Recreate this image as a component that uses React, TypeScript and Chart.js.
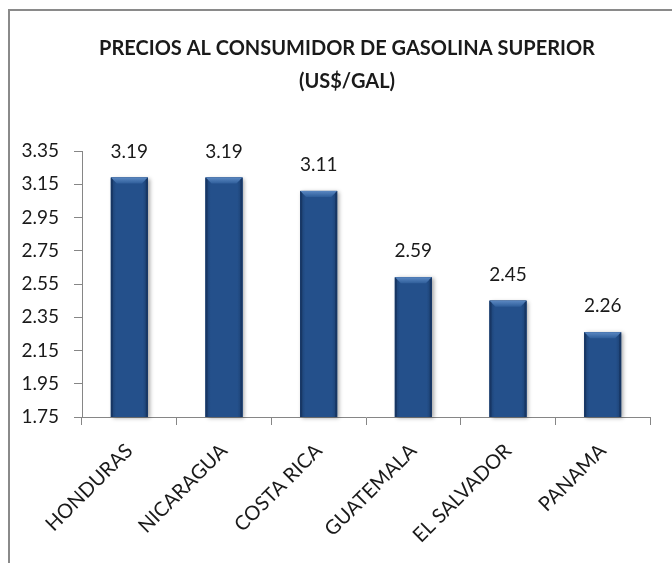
import React, { useEffect, useRef } from 'react';
import { Chart, registerables } from 'chart.js';

Chart.register(...registerables);

const categories = ['HONDURAS', 'NICARAGUA', 'COSTA RICA', 'GUATEMALA', 'EL SALVADOR', 'PANAMA'];
const prices = [3.19, 3.19, 3.11, 2.59, 2.45, 2.26];
const yTickValues = [1.75, 1.95, 2.15, 2.35, 2.55, 2.75, 2.95, 3.15, 3.35];
const titleLines = ['PRECIOS AL CONSUMIDOR DE GASOLINA SUPERIOR', '(US$/GAL)'];

const FONT = 'Lato';
const TEXT = '#1a1a1a';
const AXIS = '#868686';
const BAR = '#24508b';

function barBox(chart: any, b: any) {
  const p = b.getProps(['x', 'y', 'base', 'width'], true);
  const btm = Math.min(p.base, chart.chartArea.bottom);
  return { l: p.x - p.width / 2, r: p.x + p.width / 2, t: p.y, btm, w: p.width, x: p.x };
}

const titlePlugin = {
  id: 'customTitle',
  afterDraw(chart: any) {
    const ctx = chart.ctx;
    ctx.save();
    ctx.fillStyle = TEXT;
    ctx.font = `bold 20px ${FONT}`;
    ctx.textAlign = 'center';
    ctx.textBaseline = 'alphabetic';
    ctx.fillText(titleLines[0], 347, 55);
    ctx.fillText(titleLines[1], 347, 88);
    ctx.restore();
  },
};

const bevelPlugin = {
  id: 'bevel',
  beforeDatasetsDraw(chart: any) {
    const ctx = chart.ctx;
    const meta = chart.getDatasetMeta(0);
    ctx.save();
    ctx.shadowColor = 'rgba(0,0,0,0.35)';
    ctx.shadowBlur = 4;
    ctx.shadowOffsetX = 2;
    ctx.shadowOffsetY = 1;
    ctx.fillStyle = BAR;
    meta.data.forEach((b: any) => {
      const { l, t, w, btm } = barBox(chart, b);
      ctx.fillRect(l, t, w, btm - t);
    });
    ctx.restore();
  },
  afterDatasetsDraw(chart: any) {
    const ctx = chart.ctx;
    const meta = chart.getDatasetMeta(0);
    ctx.save();
    meta.data.forEach((b: any) => {
      const { l, r, t, w, btm } = barBox(chart, b);
      const g = ctx.createLinearGradient(l, 0, r, 0);
      g.addColorStop(0, '#1b3f70');
      g.addColorStop(0.14, '#24508b');
      g.addColorStop(0.86, '#24508b');
      g.addColorStop(1, '#1b3f70');
      ctx.fillStyle = g;
      ctx.fillRect(l, t, w, btm - t);
      const bv = 6;
      const tg = ctx.createLinearGradient(0, t, 0, t + bv);
      tg.addColorStop(0, '#5b88c2');
      tg.addColorStop(1, '#2f5e9a');
      ctx.fillStyle = tg;
      ctx.beginPath();
      ctx.moveTo(l, t);
      ctx.lineTo(r, t);
      ctx.lineTo(r - bv, t + bv);
      ctx.lineTo(l + bv, t + bv);
      ctx.closePath();
      ctx.fill();
      ctx.fillStyle = 'rgba(20,45,85,0.55)';
      ctx.beginPath();
      ctx.moveTo(l, t);
      ctx.lineTo(l + 2, t + 2);
      ctx.lineTo(l + 2, btm);
      ctx.lineTo(l, btm);
      ctx.closePath();
      ctx.fill();
      ctx.beginPath();
      ctx.moveTo(r, t);
      ctx.lineTo(r - 2, t + 2);
      ctx.lineTo(r - 2, btm);
      ctx.lineTo(r, btm);
      ctx.closePath();
      ctx.fill();
    });
    ctx.restore();
  },
};

const labelPlugin = {
  id: 'barLabels',
  afterDatasetsDraw(chart: any) {
    const ctx = chart.ctx;
    const meta = chart.getDatasetMeta(0);
    ctx.save();
    ctx.fillStyle = TEXT;
    ctx.font = `19px ${FONT}`;
    ctx.textAlign = 'center';
    ctx.textBaseline = 'alphabetic';
    meta.data.forEach((b: any, i: number) => {
      const { x, t } = barBox(chart, b);
      ctx.fillText(prices[i].toFixed(2), x, t - 20);
    });
    ctx.restore();
  },
};

export default function App() {
  const canvasRef = useRef<HTMLCanvasElement | null>(null);

  useEffect(() => {
    let chart: Chart | null = null;
    let cancelled = false;
    const make = () => {
      if (cancelled || !canvasRef.current) return;
      chart = new Chart(canvasRef.current, {
        type: 'bar',
        data: {
          labels: categories,
          datasets: [
            {
              data: prices,
              backgroundColor: BAR,
              borderWidth: 0,
              barPercentage: 0.39,
              categoryPercentage: 1,
            },
          ],
        },
        options: {
          responsive: false,
          animation: false,
          devicePixelRatio: 1,
          layout: { padding: { top: 151, right: 22, bottom: 0, left: 0 } },
          plugins: {
            legend: { display: false },
            title: { display: false },
            tooltip: { enabled: false },
          },
          scales: {
            x: {
              type: 'category',
              offset: true,
              z: 1,
              grid: {
                display: true,
                drawOnChartArea: false,
                drawTicks: true,
                tickLength: 8,
                offset: true,
                color: AXIS,
                lineWidth: 1,
              },
              border: { display: true, color: AXIS, width: 1 },
              ticks: {
                minRotation: 45,
                maxRotation: 45,
                autoSkip: false,
                padding: 14,
                color: TEXT,
                font: { family: FONT, size: 20 },
              },
              afterFit: (s: any) => {
                s.height = 146;
              },
            },
            y: {
              type: 'linear',
              min: 1.75,
              max: 3.35,
              z: 1,
              afterBuildTicks: (s: any) => {
                s.ticks = yTickValues.map((v) => ({ value: v }));
              },
              grid: {
                display: true,
                drawOnChartArea: false,
                drawTicks: true,
                tickLength: 8,
                color: AXIS,
                lineWidth: 1,
              },
              border: { display: true, color: AXIS, width: 1 },
              ticks: {
                padding: 15,
                color: TEXT,
                font: { family: FONT, size: 19 },
                callback: (v: any) => Number(v).toFixed(2),
              },
              afterFit: (s: any) => {
                s.width = 82;
              },
            },
          },
        },
        plugins: [titlePlugin, bevelPlugin, labelPlugin],
      });
    };
    const fonts: any = (document as any).fonts;
    if (fonts && fonts.load) {
      Promise.all([fonts.load(`bold 20px ${FONT}`), fonts.load(`19px ${FONT}`), fonts.load(`20px ${FONT}`)])
        .catch(() => null)
        .then(make);
    } else {
      make();
    }
    return () => {
      cancelled = true;
      if (chart) chart.destroy();
    };
  }, []);

  return (
    <div
      style={{
        position: 'fixed',
        left: 0,
        top: 0,
        width: 672,
        height: 563,
        overflow: 'hidden',
        background: '#ffffff',
      }}
    >
      <div
        style={{
          position: 'absolute',
          left: 8,
          top: 9,
          width: 700,
          height: 600,
          border: '2px solid #8a8a8a',
          boxSizing: 'border-box',
        }}
      />
      <canvas
        ref={canvasRef}
        width={672}
        height={563}
        style={{ position: 'absolute', left: 0, top: 0, width: 672, height: 563 }}
      />
    </div>
  );
}
